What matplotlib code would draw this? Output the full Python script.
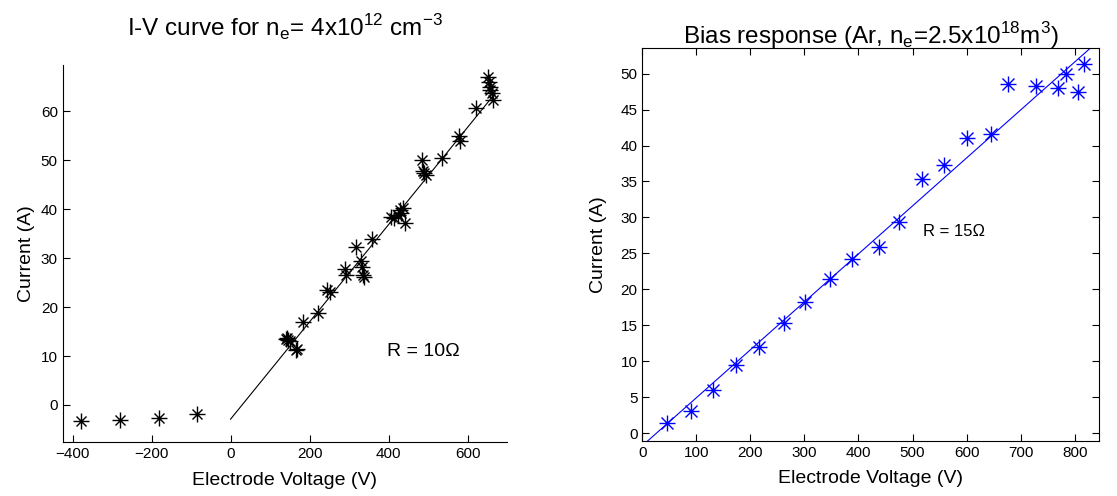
import matplotlib
matplotlib.use('Agg')
import matplotlib.pyplot as plt
import numpy as np

plt.rcParams['font.family'] = ['Liberation Sans', 'DejaVu Sans']
plt.rcParams['mathtext.fontset'] = 'custom'
plt.rcParams['mathtext.rm'] = 'Liberation Sans'

# left panel: I-V curve, n_e = 4e12 cm^-3
iv_v = [-378, -280, -181, -86,
        140, 145, 150, 143, 165, 168, 184, 222, 245, 251,
        289, 292, 317, 331, 334, 335, 338, 359,
        407, 415, 428, 432, 437, 441, 425,
        485, 487, 491, 496, 536, 578, 582, 622,
        651, 654, 656, 658, 661, 664]
iv_i = [-3.2, -3.0, -2.6, -1.9,
        13.5, 13.2, 13.0, 13.6, 11.3, 11.5, 16.9, 18.8, 23.6, 23.0,
        27.8, 26.6, 32.3, 29.4, 28.3, 26.6, 26.1, 33.9,
        38.4, 38.2, 39.9, 39.2, 40.3, 37.2, 38.8,
        50.1, 47.8, 47.4, 47.1, 50.5, 54.9, 53.9, 60.7,
        67.0, 66.1, 65.1, 64.4, 63.8, 62.4]
fit_left_v = [0, 664]
fit_left_i = [-2.9, 63.1]

# right panel: bias response, Ar
bias_v = [45, 90, 130, 174, 216, 262, 301, 347, 388, 438, 475,
          517, 558, 600, 646, 677, 729, 769, 783, 807, 817]
bias_i = [1.4, 3.1, 6.0, 9.5, 12.0, 15.3, 18.3, 21.5, 24.2, 25.9, 29.3,
          35.3, 37.3, 41.0, 41.6, 48.5, 48.3, 48.0, 50.0, 47.4, 51.3]
fit_right_v = [0, 850]
fit_right_i = [-1.73, 54.94]

fig = plt.figure(figsize=(11.17, 4.96), dpi=100)

# ---- left
ax1 = fig.add_axes([0.0561, 0.1095, 0.3978, 0.7595])
ax1.plot(fit_left_v, fit_left_i, color='black', lw=0.8)
ax1.plot(iv_v, iv_i, ls='none', marker='+', ms=11, mew=1.0, color='black')
ax1.plot(iv_v, iv_i, ls='none', marker='x', ms=7.5, mew=1.0, color='black')
ax1.plot(iv_v, iv_i, ls='none', marker='.', ms=4, color='black')
ax1.set_xlim(-425, 700)
ax1.set_ylim(-7.5, 69.5)
ax1.set_xticks([-400, -200, 0, 200, 400, 600])
ax1.set_yticks([0, 10, 20, 30, 40, 50, 60])
ax1.spines['top'].set_visible(False)
ax1.spines['right'].set_visible(False)
ax1.tick_params(direction='in', labelsize=11, length=5)
ax1.set_xlabel('Electrode Voltage (V)', fontsize=14, labelpad=8)
ax1.set_ylabel('Current (A)', fontsize=14, labelpad=4)
ax1.set_title(r'I-V curve for n$_\mathregular{e}$= 4x10$^\mathregular{12}$ cm$^\mathregular{-3}$',
              fontsize=17.5, pad=20)
ax1.text(395, 10.9, 'R = 10\u03a9', fontsize=14, ha='left', va='center')

# ---- right
ax2 = fig.add_axes([0.575, 0.1109, 0.4089, 0.793])
ax2.plot(fit_right_v, fit_right_i, color='blue', lw=0.8)
ax2.plot(bias_v, bias_i, ls='none', marker='+', ms=12, mew=1.0, color='blue')
ax2.plot(bias_v, bias_i, ls='none', marker='x', ms=8, mew=1.0, color='blue')
ax2.plot(bias_v, bias_i, ls='none', marker='.', ms=4, color='blue')
ax2.set_xlim(0, 845)
ax2.set_ylim(-1.07, 53.6)
ax2.set_xticks(np.arange(0, 801, 100))
ax2.set_yticks(np.arange(0, 51, 5))
ax2.tick_params(direction='in', labelsize=11, length=5, top=True, right=True)
ax2.set_xlabel('Electrode Voltage (V)', fontsize=14, labelpad=7)
ax2.set_ylabel('Current (A)', fontsize=14, labelpad=10)
ax2.set_title(r'Bias response (Ar, n$_\mathregular{e}$=2.5x10$^\mathregular{18}$m$^\mathregular{3}$)',
              fontsize=17.5, pad=3)
ax2.text(519, 28.0, 'R = 15\u03a9', fontsize=12, ha='left', va='center')

fig.savefig('out.png', dpi=100)
